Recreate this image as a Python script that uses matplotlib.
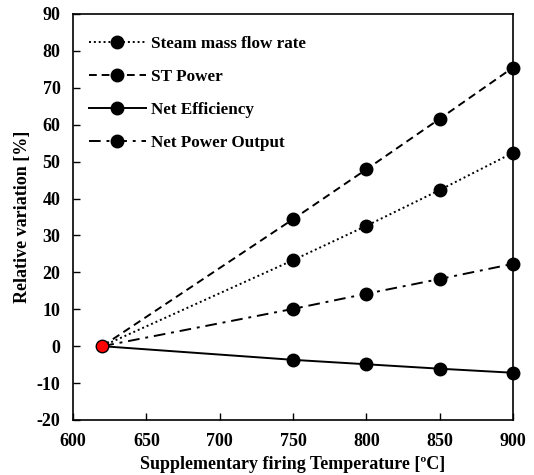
import numpy as np
import matplotlib.pyplot as plt

plt.rcParams['font.family'] = ['Liberation Serif', 'DejaVu Serif']
plt.rcParams['font.weight'] = 'bold'
plt.rcParams['axes.unicode_minus'] = False

temps = [620, 750, 800, 850, 900]
steam_flow = [0, 23.3, 32.6, 42.3, 52.4]
st_power = [0, 34.4, 47.9, 61.6, 75.5]
net_eff = [0, -3.7, -4.9, -6.1, -7.2]
net_power = [0, 10.1, 14.2, 18.2, 22.3]

fig = plt.figure(figsize=(5.34, 4.75), dpi=100)
ax = fig.add_axes([73/534, 1 - 420/475, 440/534, 406/475])

mk = dict(marker='o', markersize=9, markerfacecolor='black', markeredgecolor='black',
          color='black', linewidth=1.4, markevery=[1, 2, 3, 4], clip_on=False, zorder=3)
ax.plot(temps, steam_flow, linestyle=(0, (1, 1.5)), label='Steam mass flow rate', **mk)
ax.plot(temps, st_power, linestyle=(0, (4, 2.5)), label='ST Power', **mk)
ax.plot(temps, net_eff, linestyle='-', label='Net Efficiency', **mk)
ax.plot(temps, net_power, linestyle=(0, (6, 3, 1.5, 3)), label='Net Power Output', **mk)
ax.plot(temps[0], net_eff[0], 'o', markersize=9, markerfacecolor='red',
        markeredgecolor='black', markeredgewidth=1.0, zorder=5, clip_on=False)

ax.set_xlim(600, 900)
ax.set_ylim(-20, 90)
ax.set_xticks(np.arange(600, 901, 50))
ax.set_yticks(np.arange(-20, 91, 10))
ax.tick_params(direction='in', length=5, width=1, labelsize=13, top=False, right=False)
ax.tick_params(axis='x', pad=9)
ax.tick_params(axis='y', pad=9)
for s in ax.spines.values():
    s.set_linewidth(1.2)

ax.set_xlabel('Supplementary firing Temperature [ºC]', fontsize=13, fontweight='bold', labelpad=5)
ax.set_ylabel('Relative variation [%]', fontsize=13, fontweight='bold', labelpad=4)

leg = ax.legend(loc='upper left', bbox_to_anchor=(-6/440, 1), frameon=False,
                fontsize=12.3, handlelength=3.3, labelspacing=1.0, borderaxespad=0.9,
                handletextpad=0.3)
for t in leg.get_texts():
    t.set_fontweight('bold')

fig.savefig('out.png', dpi=100)
